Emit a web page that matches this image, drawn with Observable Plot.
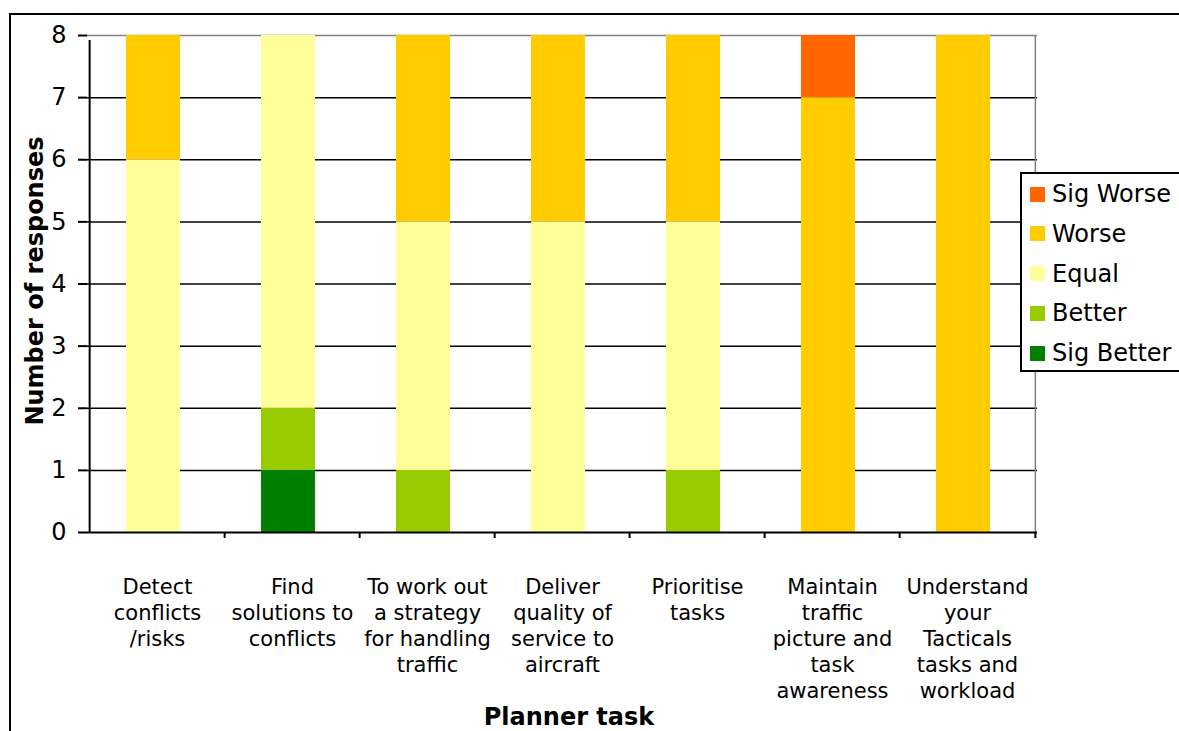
<!DOCTYPE html>
<html><head><meta charset="utf-8">
<script src="https://cdn.jsdelivr.net/npm/d3@7"></script>
<script src="https://cdn.jsdelivr.net/npm/@observablehq/plot@0.6"></script>
<style>
body{margin:0;background:#fff;font-family:"DejaVu Sans",Verdana,sans-serif;}
#wrap{position:relative;width:1179px;height:731px;overflow:hidden;background:#fff;}
#frame{position:absolute;left:9px;top:13px;width:1300px;height:800px;border-top:2px solid #000;border-left:2px solid #000;}
#chart{position:absolute;left:0;top:0;}
#legend{position:absolute;left:1020px;top:172px;width:190px;height:200px;border:2px solid #000;background:#fff;box-sizing:border-box;}
.item{position:absolute;left:8px;height:30px;display:flex;align-items:center;font-size:24px;white-space:nowrap;}
.sw{width:15px;height:15px;margin-right:7px;}
#ytitle{position:absolute;left:35px;top:281px;transform:translate(-50%,-50%) rotate(-90deg);font-weight:bold;font-size:24px;white-space:nowrap;}
#xtitle{position:absolute;left:569px;top:717px;transform:translate(-50%,-50%);font-weight:bold;font-size:24px;white-space:nowrap;}
</style></head>
<body>
<div id="wrap">
  <div id="frame"></div>
  <div id="chart"></div>
  <div id="legend"></div>
  <div id="ytitle">Number of responses</div>
  <div id="xtitle">Planner task</div>
</div>
<script>
const tasks = [
  "Detect\nconflicts\n/risks",
  "Find\nsolutions to\nconflicts",
  "To work out\na strategy\nfor handling\ntraffic",
  "Deliver\nquality of\nservice to\naircraft",
  "Prioritise\ntasks",
  "Maintain\ntraffic\npicture and\ntask\nawareness",
  "Understand\nyour\nTacticals\ntasks and\nworkload"
];
const responses = ["Sig Better", "Better", "Equal", "Worse", "Sig Worse"];
const colors = ["#008000", "#99CC00", "#FFFF99", "#FFCC00", "#FF6600"];
const sigBetter = [0, 1, 0, 0, 0, 0, 0];
const better    = [0, 1, 1, 0, 1, 0, 0];
const equal     = [6, 6, 4, 5, 4, 0, 0];
const worse     = [2, 0, 3, 3, 3, 7, 8];
const sigWorse  = [0, 0, 0, 0, 0, 1, 0];
const yTicks = [0, 1, 2, 3, 4, 5, 6, 7, 8];
const gridValues = [1, 2, 3, 4, 5, 6, 7];

const seriesValues = [sigBetter, better, equal, worse, sigWorse];
const data = responses.flatMap((r, k) => tasks.map((t, i) => ({task: t, response: r, count: seriesValues[k][i]})));

const W = 1179, H = 731;
const mL = 87, mR = 142, mT = 35, mB = 199;
const step = (W - mL - mR) / tasks.length;

const plot = Plot.plot({
  width: W, height: H,
  marginLeft: mL, marginRight: mR, marginTop: mT, marginBottom: mB,
  style: {fontFamily: "DejaVu Sans, Verdana, sans-serif", fontSize: "22px", background: "transparent", color: "#000"},
  x: {domain: tasks, paddingInner: 0.6, paddingOuter: 0.3, axis: null},
  y: {domain: [0, 8], axis: null},
  color: {domain: responses, range: colors},
  marks: [
    Plot.ruleY(gridValues, {stroke: "#000", strokeWidth: 1.5}),
    Plot.ruleY([8], {stroke: "#808080", strokeWidth: 1.5}),
    Plot.ruleX([tasks[tasks.length - 1]], {dx: step / 2, y1: 0, y2: 8, stroke: "#808080", strokeWidth: 1.5}),
    Plot.barY(data, {x: "task", y: "count", fill: "response", dx: -4}),
    Plot.ruleY([0], {stroke: "#000", strokeWidth: 2}),
    Plot.ruleX([tasks[0]], {dx: -step / 2, y1: 0, y2: 8, insetBottom: -5, stroke: "#000", strokeWidth: 2}),
    Plot.ruleX(tasks.slice(1), {dx: -step / 2, y1: 0, y2: 0, insetBottom: -6, stroke: "#000", strokeWidth: 2}),
    Plot.ruleX([tasks[tasks.length - 1]], {dx: step / 2, y1: 0, y2: 0, insetBottom: -6, stroke: "#000", strokeWidth: 2}),
    Plot.axisY({ticks: yTicks, tickSize: 9, tickPadding: 12, fontSize: 24, label: null, strokeWidth: 2, fill: "#000"}),
    Plot.text(tasks, {x: d => d, text: d => d, frameAnchor: "bottom", lineAnchor: "top", dy: 43, lineHeight: 1.238, fontSize: 21, fill: "#000"})
  ]
});
document.getElementById("chart").appendChild(plot);

const legend = document.getElementById("legend");
const order = responses.map((r, k) => k).reverse();
order.forEach((k, j) => {
  const it = document.createElement("div");
  it.className = "item";
  it.style.top = (5 + j * 39.75) + "px";
  it.innerHTML = `<span class="sw" style="background:${colors[k]}"></span><span>${responses[k]}</span>`;
  legend.appendChild(it);
});
</script>
</body></html>
